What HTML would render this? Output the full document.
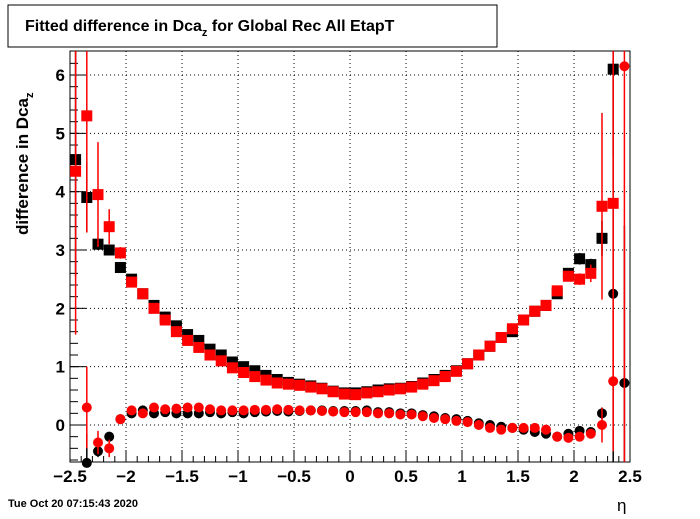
<!DOCTYPE html>
<html><head><meta charset="utf-8"><style>
body{margin:0;background:#fff}
svg text{font-family:"Liberation Sans",sans-serif}
</style></head><body>
<svg id="chart" width="700" height="514" xmlns="http://www.w3.org/2000/svg">
<rect x="0" y="0" width="700" height="514" fill="#fff"/>
<rect x="8" y="5" width="489" height="42" fill="#fff" stroke="#000" stroke-width="1"/>
<text x="25" y="31" font-size="16" font-weight="bold">Fitted difference in Dca<tspan font-size="11" dy="5">z</tspan><tspan dy="-5"> for Global Rec All EtapT</tspan></text>
<g id="grid"></g><g id="axes"></g><g id="marks"></g>
<text transform="translate(28,235) rotate(-90)" font-size="17" font-weight="bold">difference in Dca<tspan font-size="11" dy="5">z</tspan></text>
<text x="617" y="511" font-size="17">η</text>
<text x="8" y="507" font-size="11" font-weight="bold">Tue Oct 20 07:15:43 2020</text>
</svg>
<script>
const xTicks=[-2.5,-2,-1.5,-1,-0.5,0,0.5,1,1.5,2,2.5];
const xTickLabels=["−2.5","−2","−1.5","−1","−0.5","0","0.5","1","1.5","2","2.5"];
const yTicks=[0,1,2,3,4,5,6];
const yTickLabels=["0","1","2","3","4","5","6"];
const etaBins=[-2.45,-2.35,-2.25,-2.15,-2.05,-1.95,-1.85,-1.75,-1.65,-1.55,-1.45,-1.35,-1.25,-1.15,-1.05,-0.95,-0.85,-0.75,-0.65,-0.55,-0.45,-0.35,-0.25,-0.15,-0.05,0.05,0.15,0.25,0.35,0.45,0.55,0.65,0.75,0.85,0.95,1.05,1.15,1.25,1.35,1.45,1.55,1.65,1.75,1.85,1.95,2.05,2.15,2.25,2.35,2.45];
const blackUpper=[4.55,3.9,3.1,3.0,2.7,2.5,2.25,2.05,1.85,1.7,1.55,1.45,1.3,1.2,1.08,1.0,0.93,0.85,0.78,0.73,0.7,0.67,0.63,0.58,0.55,0.55,0.57,0.6,0.62,0.63,0.66,0.72,0.78,0.85,0.93,1.05,1.2,1.35,1.5,1.6,1.8,1.95,2.05,2.25,2.6,2.85,2.75,3.2,6.1,null];
const blackUpperErr=[2.0,0.6,0.1,0.05,0.03,0.02,0.02,0.02,0.02,0.02,0.02,0.02,0.02,0.02,0.02,0.02,0.02,0.02,0.02,0.02,0.02,0.02,0.02,0.02,0.02,0.02,0.02,0.02,0.02,0.02,0.02,0.02,0.02,0.02,0.02,0.02,0.02,0.02,0.02,0.02,0.02,0.03,0.03,0.05,0.05,0.1,0.1,0.3,1.5,0];
const redUpper=[4.35,5.3,3.95,3.4,2.95,2.45,2.25,2.0,1.8,1.6,1.45,1.33,1.2,1.1,0.98,0.9,0.83,0.77,0.72,0.7,0.68,0.65,0.62,0.57,0.53,0.52,0.55,0.57,0.6,0.62,0.65,0.7,0.76,0.83,0.92,1.05,1.2,1.35,1.5,1.65,1.8,1.95,2.05,2.3,2.55,2.5,2.6,3.75,3.8,null];
const redUpperErr=[2.8,2.0,0.9,0.3,0.1,0.03,0.02,0.02,0.02,0.02,0.02,0.02,0.02,0.02,0.02,0.02,0.02,0.02,0.02,0.02,0.02,0.02,0.02,0.02,0.02,0.02,0.02,0.02,0.02,0.02,0.02,0.02,0.02,0.02,0.02,0.02,0.02,0.02,0.02,0.02,0.02,0.03,0.03,0.05,0.05,0.1,0.15,1.6,3.2,0];
const blackLower=[null,-0.65,-0.45,-0.2,0.1,0.2,0.25,0.2,0.22,0.2,0.2,0.2,0.22,0.2,0.22,0.2,0.22,0.23,0.24,0.23,0.24,0.25,0.25,0.24,0.24,0.24,0.25,0.22,0.22,0.2,0.2,0.17,0.15,0.12,0.1,0.07,0.03,0.0,-0.03,-0.05,-0.08,-0.12,-0.15,-0.2,-0.15,-0.1,-0.12,0.2,2.25,0.72];
const blackLowerErr=[0,0.5,0.1,0.05,0.03,0.02,0.02,0.02,0.02,0.02,0.02,0.02,0.02,0.02,0.02,0.02,0.02,0.02,0.02,0.02,0.02,0.02,0.02,0.02,0.02,0.02,0.02,0.02,0.02,0.02,0.02,0.02,0.02,0.02,0.02,0.02,0.02,0.02,0.02,0.02,0.02,0.03,0.03,0.05,0.05,0.05,0.05,0.1,4,2.7];
const redLower=[null,0.3,-0.3,-0.4,0.1,0.25,0.2,0.3,0.27,0.28,0.3,0.3,0.27,0.25,0.25,0.25,0.26,0.26,0.27,0.26,0.25,0.25,0.24,0.23,0.22,0.22,0.22,0.2,0.2,0.18,0.18,0.15,0.12,0.1,0.07,0.05,0.0,-0.05,-0.08,-0.05,-0.05,-0.05,-0.08,-0.2,-0.22,-0.2,-0.15,0.0,0.75,6.15];
const redLowerErr=[0,0.7,0.2,0.15,0.05,0.03,0.02,0.02,0.02,0.02,0.02,0.02,0.02,0.02,0.02,0.02,0.02,0.02,0.02,0.02,0.02,0.02,0.02,0.02,0.02,0.02,0.02,0.02,0.02,0.02,0.02,0.02,0.02,0.02,0.02,0.02,0.02,0.02,0.02,0.02,0.02,0.03,0.03,0.05,0.05,0.05,0.05,0.3,1.2,8];

const NS="http://www.w3.org/2000/svg";
const L=70,R=630,T=51,B=462,xMin=-2.5,xMax=2.5,y0px=425,pxPerUnit=58.33;
const X=v=>L+(v-xMin)/(xMax-xMin)*(R-L);
const Y=v=>y0px-v*pxPerUnit;
function mk(tag,attrs,parent){const e=document.createElementNS(NS,tag);for(const k in attrs)e.setAttribute(k,attrs[k]);parent.appendChild(e);return e;}
const grid=document.getElementById('grid'),axes=document.getElementById('axes'),marks=document.getElementById('marks');
const frame=mk('rect',{x:L,y:T,width:R-L,height:B-T,fill:'none',stroke:'#000','stroke-width':1},axes);


xTicks.forEach((t,i)=>{
  const x=X(t);
  if(i>0&&i<xTicks.length-1){const g=mk('line',{x1:x,x2:x,y1:T,y2:B,stroke:'#000','stroke-dasharray':'1,3'},grid);
  
  }
  const tk=mk('line',{x1:x,x2:x,y1:B,y2:B-12,stroke:'#000'},axes);
  
  
  const lb=mk('text',{x:x,y:B+20,'font-size':17,'font-weight':'bold','text-anchor':'middle'},axes);lb.textContent=xTickLabels[i];
  
  
});
for(let v=-2.5;v<=2.501;v+=0.1){const x=X(v);mk('line',{x1:x,x2:x,y1:B,y2:B-6,stroke:'#000'},axes);}
yTicks.forEach((t,i)=>{
  const y=Y(t);
  const g=mk('line',{x1:L,x2:R,y1:y,y2:y,stroke:'#000','stroke-dasharray':'1,3'},grid);
  
  
  const tk=mk('line',{x1:L,x2:L+16,y1:y,y2:y,stroke:'#000'},axes);
  
  
  const lb=mk('text',{x:L-5,y:y+6,'font-size':17,'font-weight':'bold','text-anchor':'end'},axes);lb.textContent=yTickLabels[i];
  
  
});
for(let v=-0.6;v<=6.4;v+=0.2){const y=Y(v);if(y<T||y>B)continue;mk('line',{x1:L,x2:L+8,y1:y,y2:y,stroke:'#000'},axes);}
function clampY(y){return Math.max(T,Math.min(B,y));}
function series(vals,errs,color,shape,name){
  vals.forEach((v,i)=>{
    if(v===null)return;
    const x=X(etaBins[i]),y=Y(v);
    if(y<T-2||y>B+2)return;
    const e=errs[i];
    if(e>0){const el=mk('line',{x1:x,x2:x,y1:clampY(Y(v+e)),y2:clampY(Y(v-e)),stroke:color,'stroke-width':1.5},marks);
      
      }
    let m;
    if(shape==='sq')m=mk('rect',{x:x-5.5,y:y-5.5,width:11,height:11,fill:color},marks);
    else m=mk('circle',{cx:x,cy:y,r:5,fill:color},marks);
    
    
  });
}
series(blackUpper,blackUpperErr,'#000','sq','black-upper');
series(blackLower,blackLowerErr,'#000','ci','black-lower');
series(redUpper,redUpperErr,'#f00','sq','red-upper');
series(redLower,redLowerErr,'#f00','ci','red-lower');
</script>
</body></html>
